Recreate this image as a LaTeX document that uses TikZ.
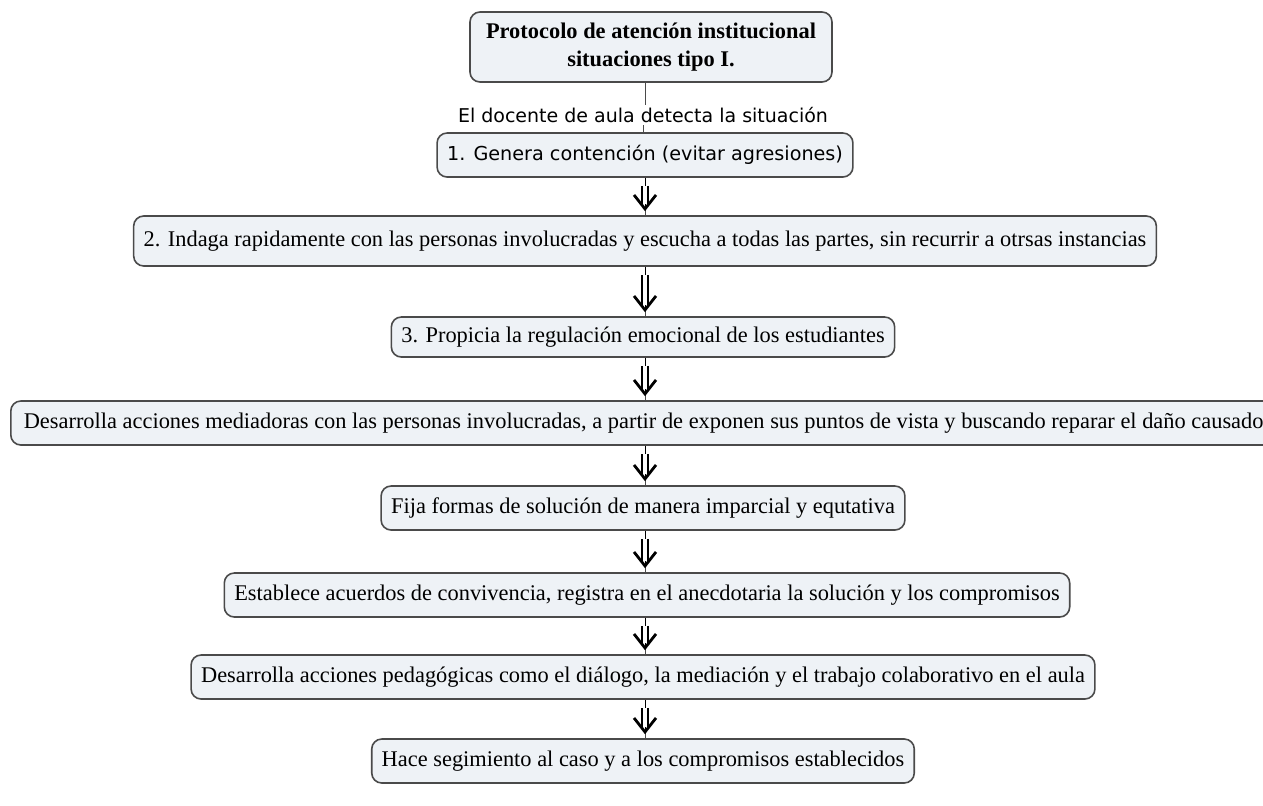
\documentclass[tikz,border=0pt]{standalone}
\usepackage{fontspec}
\setmainfont{Liberation Serif}
\newfontfamily\etiqfont{DejaVu Sans}
\usetikzlibrary{arrows.meta}

\definecolor{cajafondo}{HTML}{EEF2F6}
\definecolor{cajaborde}{HTML}{4A4A4A}

\tikzset{
  paso/.style={draw=cajaborde, fill=cajafondo, rounded corners=5pt, line width=0.8pt,
    inner xsep=5pt, minimum height=22pt, font=\fontsize{11.2}{13}\selectfont},
  flecha/.style={double, double distance=2pt, line width=1.2pt,
    shorten <=4pt, shorten >=5.5pt},
  punta/.style={line width=0.5pt, -{Straight Barb[length=7pt,width=11pt,line width=1.4pt]},
    shorten >=2pt},
  guia/.style={line width=0.5pt, cajaborde}
}

\begin{document}
\begin{tikzpicture}[x=0.5pt,y=-0.5pt]
    \useasboundingbox (0,0) rectangle (1263,805);
    \node[paso, minimum width=181pt, minimum height=35pt, align=center,
      font=\bfseries\fontsize{11.2}{14}\selectfont] (titulo) at (651,47)
      {Protocolo de atención institucional\\situaciones tipo I.};
    \node[font=\etiqfont\fontsize{9.5}{11}\selectfont, inner sep=1pt] (docente) at (643,115)
      {El docente de aula detecta la situación};
    \node[paso, font=\etiqfont\fontsize{9.6}{11}\selectfont] (p1) at (645,155)
      {1. Genera contención (evitar agresiones)};
    \node[paso, minimum height=25pt] (p2) at (645,241)
      {2. Indaga rapidamente con las personas involucradas y escucha a todas las partes, sin recurrir a otrsas instancias};
    \node[paso, minimum height=20pt] (p3) at (643,337)
      {3. Propicia la regulación emocional de los estudiantes};
    \node[paso, anchor=west, inner xsep=6.5pt] (p4) at (10,423)
      {Desarrolla acciones mediadoras con las personas involucradas, a partir de exponen sus puntos de vista y buscando reparar el daño causado};
    \node[paso] (p5) at (643,508)
      {Fija formas de solución de manera imparcial y equtativa};
    \node[paso] (p6) at (647,595)
      {Establece acuerdos de convivencia, registra en el anecdotaria la solución y los compromisos};
    \node[paso] (p7) at (643,677)
      {Desarrolla acciones pedagógicas como el diálogo, la mediación y el trabajo colaborativo en el aula};
    \node[paso] (p8) at (643,761)
      {Hace segimiento al caso y a los compromisos establecidos};

    \draw[guia] (titulo.south -| docente.north) ++(2,0) coordinate (t1) -- (t1 |- docente.north);
    \draw[guia] (docente.south) -- (docente.south |- p1.north);

    \foreach \a/\b in {p1/p2,p2/p3,p3/p4,p4/p5,p5/p6,p6/p7,p7/p8} {
      \draw[guia] (\a.south -| p2.south) -- (\b.north -| p2.south);
      \draw[punta] (\a.south -| p2.south) -- (\b.north -| p2.south);
      \draw[flecha] (\a.south -| p2.south) -- (\b.north -| p2.south);
    }
\end{tikzpicture}
\end{document}
